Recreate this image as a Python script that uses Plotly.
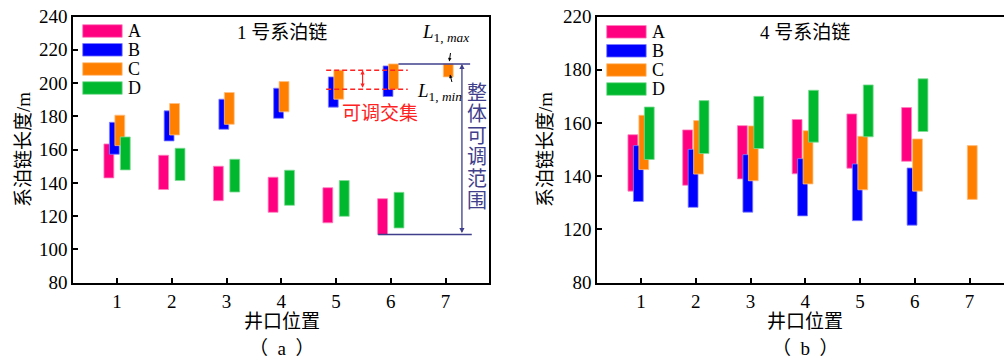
import plotly.graph_objects as go

# ---- data: mooring-chain length ranges (m) at each wellhead position ----
positions = [1, 2, 3, 4, 5, 6, 7]
series_names = ["A", "B", "C", "D"]

# Chain No.1
c1_A_low = [143.0, 136.0, 129.3, 122.3, 116.0, 108.9]
c1_A_high = [163.4, 156.6, 150.0, 143.4, 137.1, 130.5]
c1_B_low = [157.2, 165.2, 172.2, 178.8, 185.5, 191.9]
c1_B_high = [176.4, 183.3, 190.3, 196.9, 203.7, 210.3]
c1_C_low = [162.4, 168.8, 175.2, 182.7, 190.3, 196.3, 203.7]
c1_C_high = [180.7, 187.7, 194.3, 200.9, 207.7, 211.5, 211.5]
c1_D_low = [147.8, 141.4, 134.5, 126.5, 119.9, 112.9]
c1_D_high = [167.6, 160.8, 154.2, 147.6, 141.4, 134.3]

# Chain No.4
c4_A_low = [134.4, 136.6, 139.0, 140.9, 143.0, 145.6]
c4_A_high = [155.6, 157.4, 159.0, 161.3, 163.4, 165.8]
c4_B_low = [130.5, 128.3, 126.5, 125.1, 123.3, 121.6]
c4_B_high = [151.5, 150.1, 148.1, 146.6, 144.6, 143.1]
c4_C_low = [142.5, 140.8, 138.3, 137.1, 134.9, 134.4, 131.3]
c4_C_high = [162.9, 160.9, 158.9, 157.1, 155.0, 154.0, 151.5]
c4_D_low = [146.3, 148.5, 150.4, 152.8, 154.8, 156.8]
c4_D_high = [166.0, 168.4, 170.0, 172.3, 174.3, 176.6]

c1_ticks = [80, 100, 120, 140, 160, 180, 200, 220, 240]
c4_tickvals = [100, 120, 140, 160, 180, 200]
c4_ticktext = ["80", "120", "140", "160", "180", "220"]
x_ticks = [1, 2, 3, 4, 5, 6, 7]

# ---- styling ----
colors = {"A": "#FF0080", "B": "#0000FF", "C": "#FF8000", "D": "#00B82E"}
edge = {"A": "#FF80BF", "B": "#8080FF", "C": "#FFBF80", "D": "#80DC96"}
offsets = {"A": -0.15, "B": -0.05, "C": 0.05, "D": 0.15}
BAR_W = 0.18
NAVY = "#3F3F8C"
RED = "#FF2222"
SERIF = "Liberation Serif, Times New Roman, serif"
CJK = "Liberation Serif, Noto Sans CJK SC, sans-serif"

W, H = 1004, 364


def px(x):
    return x / W


def py(y):
    return 1 - y / H


def label(text, x, y, size=19, color="black", family=CJK, xanchor="center", **kw):
    return dict(text=text, xref="paper", yref="paper", x=px(x), y=py(y),
                xanchor=xanchor, yanchor="middle", showarrow=False,
                font=dict(family=family, size=size, color=color), **kw)


fig = go.Figure()

panels = [
    ("x", "y", {"A": (c1_A_low, c1_A_high), "B": (c1_B_low, c1_B_high),
                "C": (c1_C_low, c1_C_high), "D": (c1_D_low, c1_D_high)}),
    ("x2", "y2", {"A": (c4_A_low, c4_A_high), "B": (c4_B_low, c4_B_high),
                  "C": (c4_C_low, c4_C_high), "D": (c4_D_low, c4_D_high)}),
]

for xa, ya, data in panels:
    for name in series_names:
        low, high = data[name]
        fig.add_trace(go.Bar(
            x=positions[:len(low)],
            base=low,
            y=[h - l for l, h in zip(low, high)],
            width=BAR_W,
            offset=offsets[name] - BAR_W / 2,
            marker=dict(color=colors[name], line=dict(color=edge[name], width=0.8)),
            name=name, showlegend=False, xaxis=xa, yaxis=ya,
        ))

TOP, BOT = 16.5, 282.7
axis_common = dict(showline=True, linecolor="black", linewidth=2, ticks="inside",
                   ticklen=5, tickwidth=1.5, tickcolor="black", showgrid=False,
                   zeroline=False, automargin=False,
                   tickfont=dict(family=SERIF, size=19, color="black"))

fig.update_layout(
    width=W, height=H,
    margin=dict(l=0, r=0, t=0, b=0),
    plot_bgcolor="white", paper_bgcolor="white",
    barmode="overlay",
    xaxis=dict(domain=[px(73.3), px(489.3)], range=[0.2, 7.8], tickvals=x_ticks,
               mirror=True, anchor="y", **axis_common),
    yaxis=dict(domain=[py(BOT), py(TOP)], range=[80, 240], tickvals=c1_ticks,
               mirror=True, anchor="x", **axis_common),
    xaxis2=dict(domain=[px(597.3), 1.0], range=[0.2, 7.63], tickvals=x_ticks,
                mirror=True, anchor="y2", **axis_common),
    yaxis2=dict(domain=[py(BOT), py(TOP)], range=[100, 200], tickvals=c4_tickvals,
                ticktext=c4_ticktext, mirror=False, anchor="x2", **axis_common),
)

shapes = []
annots = []

# custom legends
for left_x, rows in [(82.7, [31.0, 49.8, 69.0, 88.0]), (606.7, [31.8, 50.8, 70.0, 89.0])]:
    for name, cy in zip(series_names, rows):
        shapes.append(dict(type="rect", xref="paper", yref="paper",
                           x0=px(left_x), x1=px(left_x + 39.5),
                           y0=py(cy + 6.3), y1=py(cy - 6.3),
                           fillcolor=colors[name], line=dict(color=edge[name], width=0.8)))
        annots.append(label(name, left_x + 43.5, cy, size=18, family=SERIF, xanchor="left"))

# panel titles, axis titles, sub-captions
for cx, title, cap in [(281.5, "1 号系泊链", "（  a  ）"), (805, "4 号系泊链", "（  b  ）")]:
    annots.append(label(title, cx, 32))
    annots.append(label("井口位置", cx, 321.5))
    annots.append(label(cap, cx, 348))
for cx in [23, 545]:
    annots.append(label("系泊链长度/m", cx, 150, textangle=-90))

# overall adjustable range for chain No.1
all_tops = c1_A_high + c1_B_high + c1_C_high + c1_D_high
all_bots = c1_A_low + c1_B_low + c1_C_low + c1_D_low
L_max, L_min = max(all_tops), min(all_bots)
shapes.append(dict(type="line", xref="x", yref="y", x0=6.14, x1=7.45, y0=L_max, y1=L_max,
                   line=dict(color=NAVY, width=1.5)))
shapes.append(dict(type="line", xref="x", yref="y", x0=5.77, x1=7.48, y0=L_min, y1=L_min,
                   line=dict(color=NAVY, width=1.5)))
annots.append(dict(text="", xref="x", yref="y", x=7.30, y=L_max, axref="x", ayref="y",
                   ax=7.30, ay=L_min, showarrow=True, arrowside="end+start",
                   arrowhead=2, arrowsize=0.8, arrowwidth=1.3, arrowcolor=NAVY))
for i, ch in enumerate("整体可调范围"):
    annots.append(label(ch, 476.7, 92.5 + 21.6 * i, size=20, color=NAVY))

# adjustable intersection between C at positions 5 and 6
inter_hi = min(c1_C_high[4], c1_C_high[5])
inter_lo = max(c1_C_low[4], c1_C_low[5])
for yv in (inter_hi, inter_lo):
    shapes.append(dict(type="line", xref="x", yref="y", x0=4.82, x1=6.31, y0=yv, y1=yv,
                       line=dict(color=RED, width=1.5, dash="5px,3px")))
annots.append(dict(text="", xref="x", yref="y", x=5.485, y=inter_hi, axref="x", ayref="y",
                   ax=5.485, ay=inter_lo, showarrow=True, arrowside="end+start",
                   arrowhead=2, arrowsize=0.7, arrowwidth=1.2, arrowcolor=RED))
annots.append(label("可调交集", 380, 113, color=RED))

# L labels with pointers
annots.append(label("<i>L</i><sub>1, <i>max</i></sub>", 420, 33, family=SERIF, xanchor="left"))
annots.append(label("<i>L</i><sub>1, <i>min</i></sub>", 415, 92, family=SERIF, xanchor="left"))
annots.append(dict(text="", xref="paper", yref="paper", x=px(449.3), y=py(61.5),
                   ax=1.4, ay=-10, showarrow=True, arrowhead=2, arrowsize=0.7,
                   arrowwidth=1, arrowcolor="black"))
annots.append(dict(text="", xref="paper", yref="paper", x=px(450), y=py(74.5),
                   ax=2.3, ay=9, showarrow=True, arrowhead=2, arrowsize=0.7,
                   arrowwidth=1, arrowcolor="black"))

fig.update_layout(shapes=shapes, annotations=annots)
fig.write_html("out.html")
